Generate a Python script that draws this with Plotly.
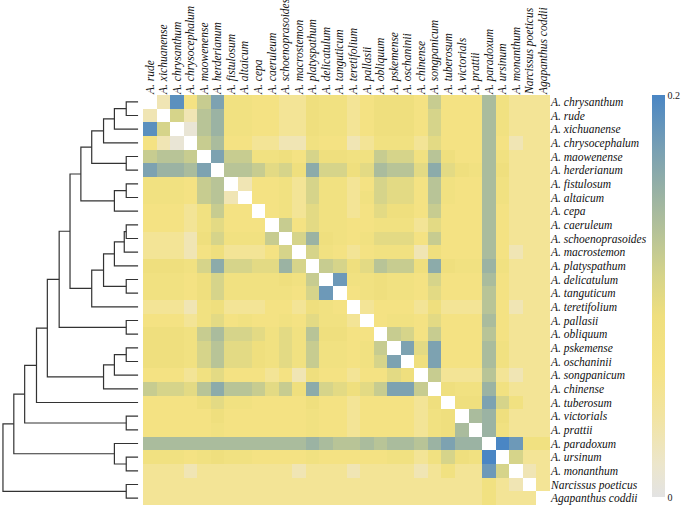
import plotly.graph_objects as go

row_labels = ["A. chrysanthum", "A. rude", "A. xichuanense", "A. chrysocephalum", "A. maowenense",
              "A. herderianum", "A. fistulosum", "A. altaicum", "A. cepa", "A. caeruleum",
              "A. schoenoprasoides", "A. macrostemon", "A. platyspathum", "A. delicatulum", "A. tanguticum",
              "A. teretifolium", "A. pallasii", "A. obliquum", "A. pskemense", "A. oschaninii",
              "A. songpanicum", "A. chinense", "A. tuberosum", "A. victorials", "A. prattii",
              "A. paradoxum", "A. ursinum", "A. monanthum", "Narcissus poeticus", "Agapanthus coddii"]

col_labels = ["A. rude", "A. xichuanense", "A. chrysanthum", "A. chrysocephalum", "A. maowenense",
              "A. herderianum", "A. fistulosum", "A. altaicum", "A. cepa", "A. caeruleum",
              "A. schoenoprasoides", "A. macrostemon", "A. platyspathum", "A. delicatulum", "A. tanguticum",
              "A. teretifolium", "A. pallasii", "A. obliquum", "A. pskemense", "A. oschaninii",
              "A. chinense", "A. songpanicum", "A. tuberosum", "A. victorials", "A. prattii",
              "A. paradoxum", "A. ursinum", "A. monanthum", "Narcissus poeticus", "Agapanthus coddii"]

# lower triangle of the symmetric distance matrix (x 0.01), row i gives columns 0..i-1
lower = [
    [],
    [3],
    [19, 11],
    [7, 3, 1],
    [12, 13, 13, 12],
    [17, 15, 15, 14, 17],
    [8, 8, 8, 7, 12, 13],
    [8, 8, 8, 7, 12, 13, 3],
    [7, 7, 7, 5, 8, 12, 7, 7],
    [7, 7, 7, 5, 8, 10, 7, 7, 7],
    [5, 5, 5, 3, 9, 11, 8, 8, 8, 12],
    [5, 5, 5, 3, 7, 9, 5, 5, 5, 7, 11],
    [9, 9, 9, 8, 11, 16, 11, 11, 10, 10, 15, 11],
    [8, 8, 8, 7, 9, 11, 8, 8, 8, 8, 9, 8, 12],
    [8, 8, 8, 7, 9, 11, 8, 8, 8, 8, 8, 7, 11, 18],
    [5, 5, 5, 3, 8, 9, 5, 5, 5, 7, 7, 5, 9, 8, 7],
    [7, 7, 7, 5, 8, 10, 7, 8, 7, 7, 8, 7, 10, 8, 8, 5],
    [9, 9, 9, 8, 12, 14, 11, 11, 10, 8, 10, 8, 13, 9, 9, 7, 7],
    [9, 9, 9, 8, 11, 13, 10, 10, 9, 8, 10, 8, 12, 8, 8, 7, 8, 12],
    [9, 9, 9, 8, 11, 13, 10, 10, 9, 8, 10, 8, 12, 8, 8, 7, 8, 11, 17],
    [7, 7, 7, 5, 8, 10, 7, 7, 7, 5, 7, 3, 9, 7, 7, 5, 7, 7, 10, 9],
    [12, 11, 11, 10, 13, 16, 13, 13, 12, 10, 12, 9, 16, 11, 10, 9, 10, 12, 17, 17, 12],
    [7, 7, 7, 7, 9, 10, 8, 8, 7, 7, 7, 7, 9, 7, 7, 5, 7, 7, 7, 7, 5, 9],
    [7, 7, 7, 7, 7, 9, 7, 7, 7, 7, 7, 7, 8, 7, 7, 5, 7, 7, 7, 7, 5, 8, 9],
    [7, 7, 7, 7, 7, 8, 7, 7, 7, 7, 7, 7, 8, 7, 7, 5, 7, 7, 7, 7, 5, 8, 9, 14],
    [14, 14, 14, 14, 14, 14, 14, 14, 14, 14, 14, 14, 15, 14, 13, 13, 14, 13, 14, 14, 13, 15, 17, 15, 15],
    [8, 8, 8, 7, 8, 9, 8, 8, 7, 7, 7, 7, 8, 7, 7, 7, 7, 7, 8, 8, 5, 8, 11, 9, 8, 20],
    [5, 5, 5, 3, 5, 5, 5, 5, 5, 5, 5, 3, 5, 5, 5, 3, 5, 5, 5, 5, 3, 5, 8, 5, 5, 18, 11],
    [5, 5, 5, 5, 5, 5, 5, 5, 5, 5, 5, 5, 5, 5, 5, 5, 5, 5, 5, 5, 5, 5, 5, 5, 5, 8, 5, 3],
    [5, 5, 5, 5, 5, 5, 5, 5, 5, 5, 5, 5, 5, 5, 5, 5, 5, 5, 5, 5, 5, 5, 5, 5, 5, 8, 5, 5, 5],
]

# dendrogram merges: (child a, child b, height); new nodes numbered from 30
merges = [
    (0, 1, 12), (30, 2, 24), (31, 3, 35), (4, 5, 12), (32, 33, 47),
    (6, 7, 12), (35, 8, 24), (34, 36, 58), (9, 10, 12), (38, 11, 14),
    (39, 12, 24), (13, 14, 12), (40, 41, 35), (42, 15, 47), (37, 43, 69),
    (16, 17, 12), (44, 45, 80), (18, 19, 12), (47, 20, 24), (48, 21, 35),
    (46, 49, 92), (50, 22, 103), (23, 24, 12), (51, 52, 115), (26, 27, 12),
    (25, 54, 24), (53, 55, 126), (28, 29, 12), (56, 57, 137),
]

n = len(row_labels)
Z = [[None] * n for _ in range(n)]
for i, row in enumerate(lower):
    for j, v in enumerate(row):
        Z[i][j] = v / 100
        Z[j][i] = v / 100

# dendrogram coordinates
pos = {i: (float(i), 0.0) for i in range(n)}
dx, dy = [], []
for k, (a, b, h) in enumerate(merges):
    ya, ha = pos[a]
    yb, hb = pos[b]
    dx += [ha, h, h, hb, None]
    dy += [ya, ya, yb, yb, None]
    pos[n + k] = ((ya + yb) / 2, h)

W, H = 681, 507
hx0, hx1 = 143 / W, 550 / W
hy0, hy1 = 1 - 505 / H, 1 - 95 / H

colorscale = [
    [0.0, "#e3e3e3"], [0.08, "#ece6cc"], [0.2, "#f2e4a2"], [0.32, "#f5e385"],
    [0.45, "#efdf7e"], [0.55, "#d6d48a"], [0.65, "#b8c497"], [0.75, "#9bb3a3"],
    [0.87, "#779fb4"], [1.0, "#4a86c4"],
]

serif = "Liberation Serif"

fig = go.Figure()
fig.add_trace(go.Heatmap(
    z=Z, x=list(range(n)), y=list(range(n)),
    colorscale=colorscale, zmin=0, zmax=0.2,
    hoverongaps=False,
    colorbar=dict(
        x=652 / W, xanchor="left", xpad=0, y=1 - 95 / H, yanchor="top", ypad=0,
        len=402, lenmode="pixels", thickness=13, thicknessmode="pixels",
        outlinewidth=0, tickvals=[0, 0.2], ticktext=["0", "0.2"], ticks="",
        tickfont=dict(family=serif, size=10, color="#222"),
    ),
))
fig.add_trace(go.Scatter(
    x=dx, y=dy, mode="lines", xaxis="x2", yaxis="y",
    line=dict(color="#333333", width=1.2), hoverinfo="skip", showlegend=False,
))

fig.update_layout(
    width=W, height=H, margin=dict(l=0, r=0, t=0, b=0, autoexpand=False),
    paper_bgcolor="white", plot_bgcolor="white", showlegend=False,
    xaxis=dict(domain=[hx0, hx1], range=[-0.5, n - 0.5], side="top", automargin=False,
               tickvals=list(range(n)), ticktext=col_labels, tickangle=-90,
               ticks="", showgrid=False, zeroline=False, showline=False,
               tickfont=dict(family=serif, size=11.5, color="#111", style="italic")),
    yaxis=dict(domain=[hy0, hy1], range=[n - 0.5, -0.5], side="right", anchor="x", automargin=False,
               tickvals=list(range(n)), ticktext=row_labels,
               ticks="", showgrid=False, zeroline=False, showline=False,
               tickfont=dict(family=serif, size=11.5, color="#111", style="italic")),
    xaxis2=dict(domain=[0, hx0], range=[140, -5], anchor="y", automargin=False,
                showticklabels=False, ticks="", showgrid=False, zeroline=False, showline=False),
)

fig.write_html("out.html", config={"displayModeBar": False},
               post_script="document.body.style.margin='0';document.body.style.overflow='hidden';")
